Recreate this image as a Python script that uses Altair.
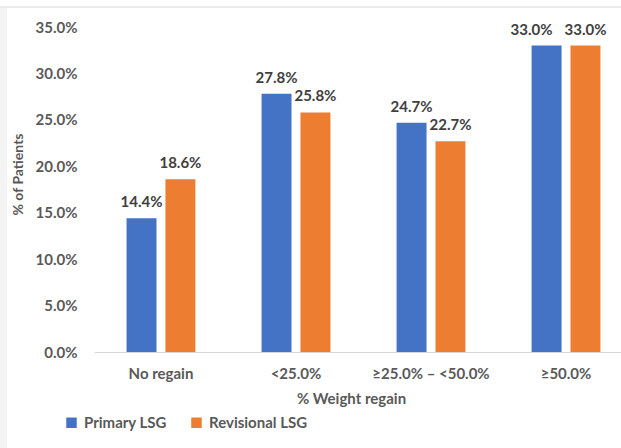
import altair as alt
import pandas as pd

categories = ["No regain", "<25.0%", "≥25.0% – <50.0%", "≥50.0%"]
series = ["Primary LSG", "Revisional LSG"]
primary = [0.144, 0.278, 0.247, 0.330]
revisional = [0.186, 0.258, 0.227, 0.330]
colors = ["#4472C4", "#ED7D31"]

rows = []
for c, p, r in zip(categories, primary, revisional):
    rows.append({"cat": c, "series": series[0], "value": p})
    rows.append({"cat": c, "series": series[1], "value": r})
df = pd.DataFrame(rows)

FONT = "Lato"
GRAY = "#595959"

x = alt.X("cat:N", sort=categories, title="% Weight regain",
          scale=alt.Scale(range=[0, 539], paddingInner=0.49, paddingOuter=0.241),
          axis=alt.Axis(labelAngle=0, ticks=False, tickSize=0, labelPadding=21,
                        labelBaseline="middle",
                        labelFontSize=15, labelColor=GRAY, labelFont=FONT,
                        labelFontWeight="bold",
                        domainColor="#d9d9d9", domainWidth=1.2,
                        titleFontSize=15, titleColor=GRAY, titleFont=FONT,
                        titleFontWeight="bold",
                        titleX=257, titleY=46, titleBaseline="middle",
                        titleAnchor="start", titleAlign="center"))
xo = alt.XOffset("series:N", sort=series,
                 scale=alt.Scale(paddingInner=0.23, paddingOuter=0))
y = alt.Y("value:Q", title="% of Patients",
          scale=alt.Scale(domain=[0, 0.35], nice=False),
          axis=alt.Axis(format=".1%", values=[0, 0.05, 0.1, 0.15, 0.2, 0.25, 0.3, 0.35],
                        grid=False, ticks=False, tickSize=0, domain=False,
                        labelPadding=17, labelFontSize=15, labelColor=GRAY,
                        labelFont=FONT, labelFontWeight="bold",
                        titleFontSize=14, titleColor=GRAY, titleFont=FONT,
                        titleFontWeight="bold",
                        titleX=-76, titleY=147, titleAngle=270,
                        titleAlign="center", titleBaseline="middle"))
color = alt.Color("series:N", sort=series,
                  scale=alt.Scale(domain=series, range=colors),
                  legend=alt.Legend(title=None, orient="none", direction="horizontal",
                                    legendX=-30, legendY=388, symbolType="square",
                                    symbolSize=110, symbolStrokeWidth=0,
                                    labelFontSize=15, labelColor=GRAY, labelFont=FONT,
                                    labelFontWeight="bold", columnPadding=22,
                                    labelOffset=5))

base = alt.Chart(df)
bars = base.mark_bar().encode(x=x, xOffset=xo, y=y, color=color)

# labels: when both series tie in a group, the first label is nudged left (as Excel does)
lab_base = base.transform_joinaggregate(
    vmin="min(value)", vmax="max(value)", groupby=["cat"]
).transform_calculate(
    tied="datum.vmin == datum.vmax && datum.series == '" + series[0] + "'"
)
lab_enc = dict(
    x=alt.X("cat:N", sort=categories), xOffset=alt.XOffset("series:N", sort=series),
    y="value:Q", text=alt.Text("value:Q", format=".1%"))
labels = lab_base.transform_filter("!datum.tied").mark_text(
    dy=-8, baseline="bottom", fontSize=15, fontWeight="bold",
    font=FONT, color="#404040").encode(**lab_enc)
labels_tied = lab_base.transform_filter("datum.tied").mark_text(
    dy=-8, dx=-15, baseline="bottom", fontSize=15, fontWeight="bold",
    font=FONT, color="#404040").encode(**lab_enc)

# faint frame of the original screenshot (top line and left shade)
frame_top = alt.Chart(df).mark_rule(color="#ebebeb", strokeWidth=2).encode(
    x=alt.value(-94), x2=alt.value(527), y=alt.value(-20))
frame_left = alt.Chart(df).mark_rect(color="#f4f4f4").encode(
    x=alt.value(-94), x2=alt.value(-87), y=alt.value(-19), y2=alt.value(421))

chart = (frame_left + frame_top + bars + labels + labels_tied).properties(
    width=527, height=325,
    padding={"left": 94, "top": 27, "right": 0, "bottom": 96},
    autosize=alt.AutoSizeParams(type="none"),
    background="white",
).configure_view(stroke=None)

chart.save("out.html", embed_options={"renderer": "svg", "actions": False})
